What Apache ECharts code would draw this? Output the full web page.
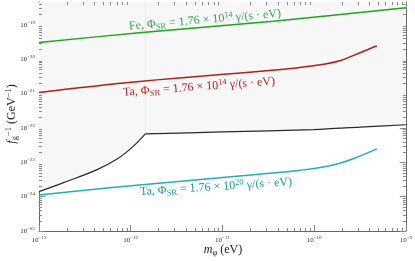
<!DOCTYPE html>
<html><head><meta charset="utf-8">
<script src="https://cdn.jsdelivr.net/npm/echarts@6/dist/echarts.min.js"></script>
<style>html,body{margin:0;padding:0;background:#fff}#c{width:415px;height:261px}</style>
</head><body><div id="c"></div>
<script>
// values are log10 of m_phi (eV) and log10 of f_g^-1 (GeV^-1)
const xTicks = [-13, -12, -11, -10, -9];
const yTicks = [-25, -24, -23, -22, -21, -20, -19];
const X_MIN = -13, X_MAX = -9, Y_MIN = -25, Y_MAX = -18.34;

const feX = [-13, -11.906, -10.443, -9];
const feY = [-19.52, -19.233, -18.903, -18.504];

const ta14X = [-13, -11.906, -10.389, -10.172, -9.9, -9.72, -9.576, -9.316];
const ta14Y = [-20.972, -20.652, -20.31, -20.25, -20.15, -20.05, -19.90, -19.611];

const ta20X = [-13, -11.906, -10.389, -10.172, -9.9, -9.72, -9.576, -9.316];
const ta20Y = [-23.951, -23.66, -23.30, -23.24, -23.14, -23.03, -22.90, -22.61];

// EP: rising curve up to the corner, then the flat part
const epCurveX = [-13, -12.74, -12.372, -12.144, -11.982, -11.841];
const epCurveY = [-23.855, -23.60, -23.223, -22.90, -22.56, -22.174];
const epFlatX = [-11.841, -11, -10, -9.5, -9];
const epFlatY = [-22.174, -22.12, -22.05, -21.98, -21.91];

const zip = (a, b) => a.map((v, i) => [v, b[i]]);
const SERIF = '"Liberation Serif", "DejaVu Serif", serif';

const minorX = [], minorY = [];
for (let d = X_MIN; d < X_MAX; d++) for (let k = 2; k <= 9; k++) minorX.push([d + Math.log10(k), Y_MIN]);
for (let d = Y_MIN; d < Math.ceil(Y_MAX); d++) for (let k = 2; k <= 9; k++) { const v = d + Math.log10(k); if (v < Y_MAX) minorY.push([X_MIN, v]); }

const tickRich = {
  b: { fontSize: 7, fontFamily: SERIF, color: '#333' },
  s: { fontSize: 5, fontFamily: SERIF, color: '#333', padding: [0, 0, 5, 0] }
};
const fmt = v => Math.abs(v - Math.round(v)) < 1e-6 ? '{b|10}{s|−' + (-Math.round(v)) + '}' : '';

const axisLine = { show: true, lineStyle: { color: '#666', width: 1 } };
const axisTick = { show: true, inside: true, length: 6, lineStyle: { color: '#888', width: 1 } };

const chart = echarts.init(document.getElementById('c'), null, { renderer: 'canvas' });
const lineRich = (col) => ({
  n: { fontSize: 12, fontFamily: SERIF, color: col },
  sub: { fontSize: 8.5, fontFamily: SERIF, color: col, padding: [6, 0, 0, 0] },
  sup: { fontSize: 8.5, fontFamily: SERIF, color: col, padding: [0, 0, 6, 0] }
});
function label(x, y, txt, col, rot) {
  return { type: 'text', x: x, y: y, rotation: rot, silent: true, z: 100,
    style: { text: txt, rich: lineRich(col), fill: col, font: '12px ' + SERIF, align: 'center', verticalAlign: 'middle' } };
}
const option = {
  animation: false,
  grid: { left: 39, right: 7, top: 2, bottom: 30 },
  xAxis: [
    { type: 'value', min: X_MIN, max: X_MAX, interval: 1, axisLine, axisTick, splitLine: { show: false },
      axisLabel: { formatter: fmt, rich: tickRich, margin: 4 } },
    { type: 'value', position: 'top', min: X_MIN, max: X_MAX, interval: 1, axisLine, axisTick, splitLine: { show: false },
      axisLabel: { show: false } }
  ],
  yAxis: [
    { type: 'value', min: Y_MIN, max: Y_MAX, interval: 1, axisLine, axisTick, splitLine: { show: false },
      axisLabel: { formatter: fmt, rich: tickRich, margin: 4 } },
    { type: 'value', position: 'right', min: Y_MIN, max: Y_MAX, interval: 1, axisLine, axisTick, splitLine: { show: false },
      axisLabel: { show: false } }
  ],
  series: [
    { type: 'line', data: zip(epCurveX, epCurveY), symbol: 'none', smooth: 0.4, lineStyle: { color: '#2a2a2a', width: 1.2 },
      areaStyle: { origin: 'end', color: '#f7f7f7', opacity: 1 }, z: 1 },
    { type: 'line', data: zip(epFlatX, epFlatY), symbol: 'none', smooth: 0.3, lineStyle: { color: '#2a2a2a', width: 1.2 },
      areaStyle: { origin: 'end', color: '#f7f7f7', opacity: 1 }, z: 1 },
    { type: 'line', data: [[epCurveX[5], epCurveY[5] + 0.03], [epCurveX[5], Y_MAX]], symbol: 'none', lineStyle: { color: '#ebebeb', width: 1 }, z: 2 },
    { type: 'line', data: zip(feX, feY), symbol: 'none', smooth: 0.3, lineStyle: { color: '#1fa51f', width: 1.5 }, z: 3 },
    { type: 'line', data: zip(ta14X, ta14Y), symbol: 'none', smooth: 0.4, lineStyle: { color: '#b01e1e', width: 1.5 }, z: 3 },
    { type: 'line', data: zip(ta20X, ta20Y), symbol: 'none', smooth: 0.4, lineStyle: { color: '#1fb0b0', width: 1.5 }, z: 3 },
    { type: 'custom', data: minorX, encode: { x: 0, y: 1 }, silent: true, clip: false, z: 5,
      renderItem: (p, api) => {
        const v = api.value(0);
        const a = api.coord([v, Y_MIN]), b = api.coord([v, Y_MAX]);
        const st = { stroke: '#888', lineWidth: 1 };
        return { type: 'group', children: [
          { type: 'line', shape: { x1: Math.round(a[0]) + 0.5, y1: a[1], x2: Math.round(a[0]) + 0.5, y2: a[1] - 3 }, style: st },
          { type: 'line', shape: { x1: Math.round(b[0]) + 0.5, y1: b[1], x2: Math.round(b[0]) + 0.5, y2: b[1] + 3 }, style: st }
        ] };
      } },
    { type: 'custom', data: minorY, encode: { x: 0, y: 1 }, silent: true, clip: false, z: 5,
      renderItem: (p, api) => {
        const v = api.value(1);
        const a = api.coord([X_MIN, v]), b = api.coord([X_MAX, v]);
        const st = { stroke: '#888', lineWidth: 1 };
        return { type: 'group', children: [
          { type: 'line', shape: { x1: a[0], y1: Math.round(a[1]) + 0.5, x2: a[0] + 3, y2: Math.round(a[1]) + 0.5 }, style: st },
          { type: 'line', shape: { x1: b[0], y1: Math.round(b[1]) + 0.5, x2: b[0] - 3, y2: Math.round(b[1]) + 0.5 }, style: st }
        ] };
      } }
  ],
  graphic: [
    label(205, 20, '{n|Fe, Φ}{sub|SR}{n| = 1.76 × 10}{sup|14}{n| γ/(s · eV)}', '#2ea84a', 0.085),
    label(199, 87, '{n|Ta, Φ}{sub|SR}{n| = 1.76 × 10}{sup|14}{n| γ/(s · eV)}', '#b01e1e', 0.075),
    label(216, 187, '{n|Ta, Φ}{sub|SR}{n| = 1.76 × 10}{sup|20}{n| γ/(s · eV)}', '#1a9a9a', 0.065),
    { type: 'text', x: 375, y: 120, silent: true, style: { text: 'EP', font: '12px ' + SERIF, fill: '#222', align: 'center', verticalAlign: 'middle' } },
    { type: 'text', x: 223, y: 250, silent: true, style: {
        text: '{i|m}{sub|φ}{n| (eV)}', align: 'center', verticalAlign: 'middle',
        rich: { i: { fontSize: 12, fontStyle: 'italic', fontFamily: SERIF, fill: '#222' }, n: { fontSize: 12, fontFamily: SERIF, fill: '#222' },
                sub: { fontSize: 8.5, fontFamily: SERIF, fill: '#222', padding: [5, 0, 0, 0] } } } },
    { type: 'text', x: 12, y: 114, rotation: Math.PI / 2, silent: true, style: {
        text: '{i|f}{sub|g}{sup|−1}{n| (GeV}{sup|−1}{n|)}', align: 'center', verticalAlign: 'middle',
        rich: { i: { fontSize: 12, fontStyle: 'italic', fontFamily: SERIF, fill: '#222' }, n: { fontSize: 12, fontFamily: SERIF, fill: '#222' },
                sub: { fontSize: 8.5, fontFamily: SERIF, fill: '#222', padding: [5, 0, 0, 0] },
                sup: { fontSize: 8.5, fontFamily: SERIF, fill: '#222', padding: [0, 0, 6, 0] } } } }
  ]
};
chart.setOption(option);
</script></body></html>
